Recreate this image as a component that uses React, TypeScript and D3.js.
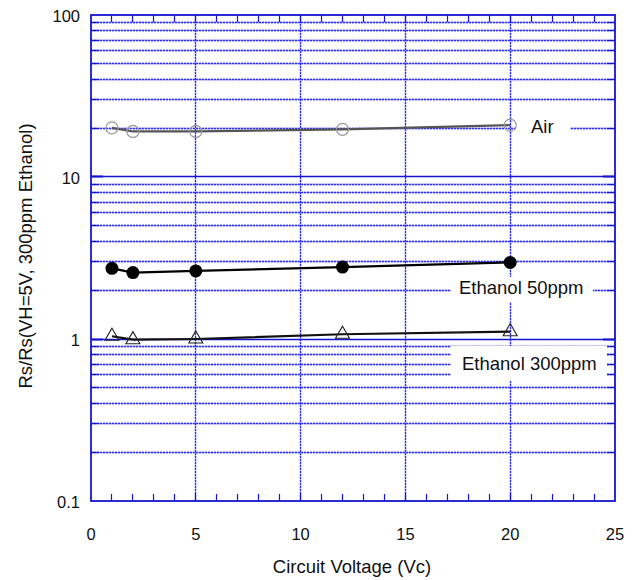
import React from "react";
import * as d3 from "d3";

const voltages = [1, 2, 5, 12, 20];
const airValues = [20.1, 19.1, 19.1, 19.7, 20.9];
const ethanol50Values = [2.73, 2.57, 2.63, 2.78, 2.97];
const ethanol300Values = [1.04, 0.99, 1.0, 1.07, 1.11];
const xTicks = [0, 5, 10, 15, 20, 25];
const yTicks = [0.1, 1, 10, 100];
const yTickLabels = ["0.1", "1", "10", "100"];
const seriesLabels = ["Air", "Ethanol 50ppm", "Ethanol 300ppm"];

const W = 635;
const H = 580;
const L = 91;
const R = 615;
const T = 15;
const B = 501;
const AXIS = "#1414d2";
const GRID = "#3030f4";
const GRID_LIGHT = "#a8a8f8";
const FONT = "'Liberation Sans', Arial, sans-serif";

const snap = (v: number) => Math.round(v - 0.5) + 0.5;

export default function App() {
  const x = d3.scaleLinear().domain([0, 25]).range([L, R]);
  const y = d3.scaleLog().domain([0.1, 100]).range([B, T]);

  const minorY: number[] = [];
  [0.1, 1, 10].forEach((d) => {
    for (let k = 2; k <= 9; k++) minorY.push(d * k);
  });
  const minorX = d3.range(1, 25).filter((v) => v % 5 !== 0);

  const line = d3
    .line<[number, number]>()
    .x((d) => x(d[0]))
    .y((d) => y(d[1]));
  const pts = (vals: number[]) => voltages.map((v, i) => [v, vals[i]] as [number, number]);
  const tri = d3.symbol().type(d3.symbolTriangle).size(85)();

  const dotted = (key: string, x1: number, x2: number, y1: number, y2: number) => (
    <g key={key}>
      <line x1={x1} x2={x2} y1={y1} y2={y2} stroke={GRID_LIGHT} strokeWidth={1.3} />
      <line x1={x1} x2={x2} y1={y1} y2={y2} stroke={GRID} strokeWidth={1.3} strokeDasharray="2,1" />
    </g>
  );

  return (
    <svg width={W} height={H} style={{ position: "absolute", left: 0, top: 0, background: "#fff" }}>
      {/* minor horizontal grid */}
      {minorY.map((v) => dotted("hy" + v, L, R, snap(y(v)), snap(y(v))))}
      {/* vertical grid */}
      {[5, 10, 15, 20].map((v) => dotted("vx" + v, snap(x(v)), snap(x(v)), T, B))}
      {/* major horizontal lines */}
      {[1, 10].map((v) => (
        <line key={"my" + v} x1={L} x2={R} y1={snap(y(v))} y2={snap(y(v))} stroke={AXIS} strokeWidth={1.3} />
      ))}

      {/* label backgrounds */}
      <rect x={516} y={117} width={54} height={23} fill="#fff" />
      <rect x={451} y={277} width={142} height={25} fill="#fff" />
      <rect x={451} y={346} width={156} height={35} fill="#fff" />

      {/* labels */}
      <text x={531} y={133} fontFamily={FONT} fontSize={18.5} fill="#111">{seriesLabels[0]}</text>
      <text x={459} y={293.5} fontFamily={FONT} fontSize={18.5} fill="#111">{seriesLabels[1]}</text>
      <text x={462} y={370} fontFamily={FONT} fontSize={18.5} fill="#111">{seriesLabels[2]}</text>

      {/* series lines */}
      <path d={line(pts(airValues)) || ""} fill="none" stroke="#555" strokeWidth={2.2} />
      <path d={line(pts(ethanol50Values)) || ""} fill="none" stroke="#000" strokeWidth={2.2} />
      <path d={line(pts(ethanol300Values)) || ""} fill="none" stroke="#111" strokeWidth={2.2} />

      {/* markers */}
      {pts(airValues).map((d, i) => (
        <circle key={"a" + i} cx={x(d[0])} cy={y(d[1])} r={6} fill="none" stroke="#999" strokeWidth={1.2} />
      ))}
      {pts(ethanol50Values).map((d, i) => (
        <circle key={"e" + i} cx={x(d[0])} cy={y(d[1])} r={6.5} fill="#000" />
      ))}
      {pts(ethanol300Values).map((d, i) => (
        <path key={"t" + i} d={tri || ""} transform={`translate(${x(d[0])},${y(d[1])})`} fill="none" stroke="#222" strokeWidth={1.1} />
      ))}

      {/* ticks */}
      {minorX.map((v) => (
        <g key={"tx" + v}>
          <line x1={snap(x(v))} x2={snap(x(v))} y1={B} y2={B - 7} stroke={AXIS} strokeWidth={1.2} />
          <line x1={snap(x(v))} x2={snap(x(v))} y1={T} y2={T + 7} stroke={AXIS} strokeWidth={1.2} />
        </g>
      ))}
      {[5, 10, 15, 20].map((v) => (
        <g key={"Tx" + v}>
          <line x1={snap(x(v))} x2={snap(x(v))} y1={B} y2={B - 8} stroke={AXIS} strokeWidth={1.2} />
          <line x1={snap(x(v))} x2={snap(x(v))} y1={T} y2={T + 8} stroke={AXIS} strokeWidth={1.2} />
        </g>
      ))}
      {minorY.map((v) => (
        <g key={"ty" + v}>
          <line x1={L} x2={L + 8} y1={snap(y(v))} y2={snap(y(v))} stroke={AXIS} strokeWidth={1.2} />
          <line x1={R} x2={R - 8} y1={snap(y(v))} y2={snap(y(v))} stroke={AXIS} strokeWidth={1.2} />
        </g>
      ))}
      {[1, 10].map((v) => (
        <g key={"My" + v}>
          <line x1={L} x2={L + 12} y1={snap(y(v))} y2={snap(y(v))} stroke={AXIS} strokeWidth={2} />
          <line x1={R} x2={R - 12} y1={snap(y(v))} y2={snap(y(v))} stroke={AXIS} strokeWidth={2} />
        </g>
      ))}

      {/* frame */}
      <rect x={L} y={T} width={R - L} height={B - T} fill="none" stroke={AXIS} strokeWidth={1.8} />

      {/* tick labels */}
      {xTicks.map((v) => (
        <text key={"xl" + v} x={x(v)} y={540} textAnchor="middle" fontFamily={FONT} fontSize={16.5} fill="#111">
          {v}
        </text>
      ))}
      {yTicks.map((v, i) => (
        <text key={"yl" + v} x={80} y={y(v) + 7} textAnchor="end" fontFamily={FONT} fontSize={16.5} fill="#111">
          {yTickLabels[i]}
        </text>
      ))}

      {/* axis titles */}
      <text x={352} y={573} textAnchor="middle" fontFamily={FONT} fontSize={18.5} fill="#111">
        Circuit Voltage (Vc)
      </text>
      <text
        transform={`translate(32,256) rotate(-90)`}
        textAnchor="middle"
        fontFamily={FONT}
        fontSize={18.5}
        fill="#111"
      >
        Rs/Rs(VH=5V, 300ppm Ethanol)
      </text>
    </svg>
  );
}
